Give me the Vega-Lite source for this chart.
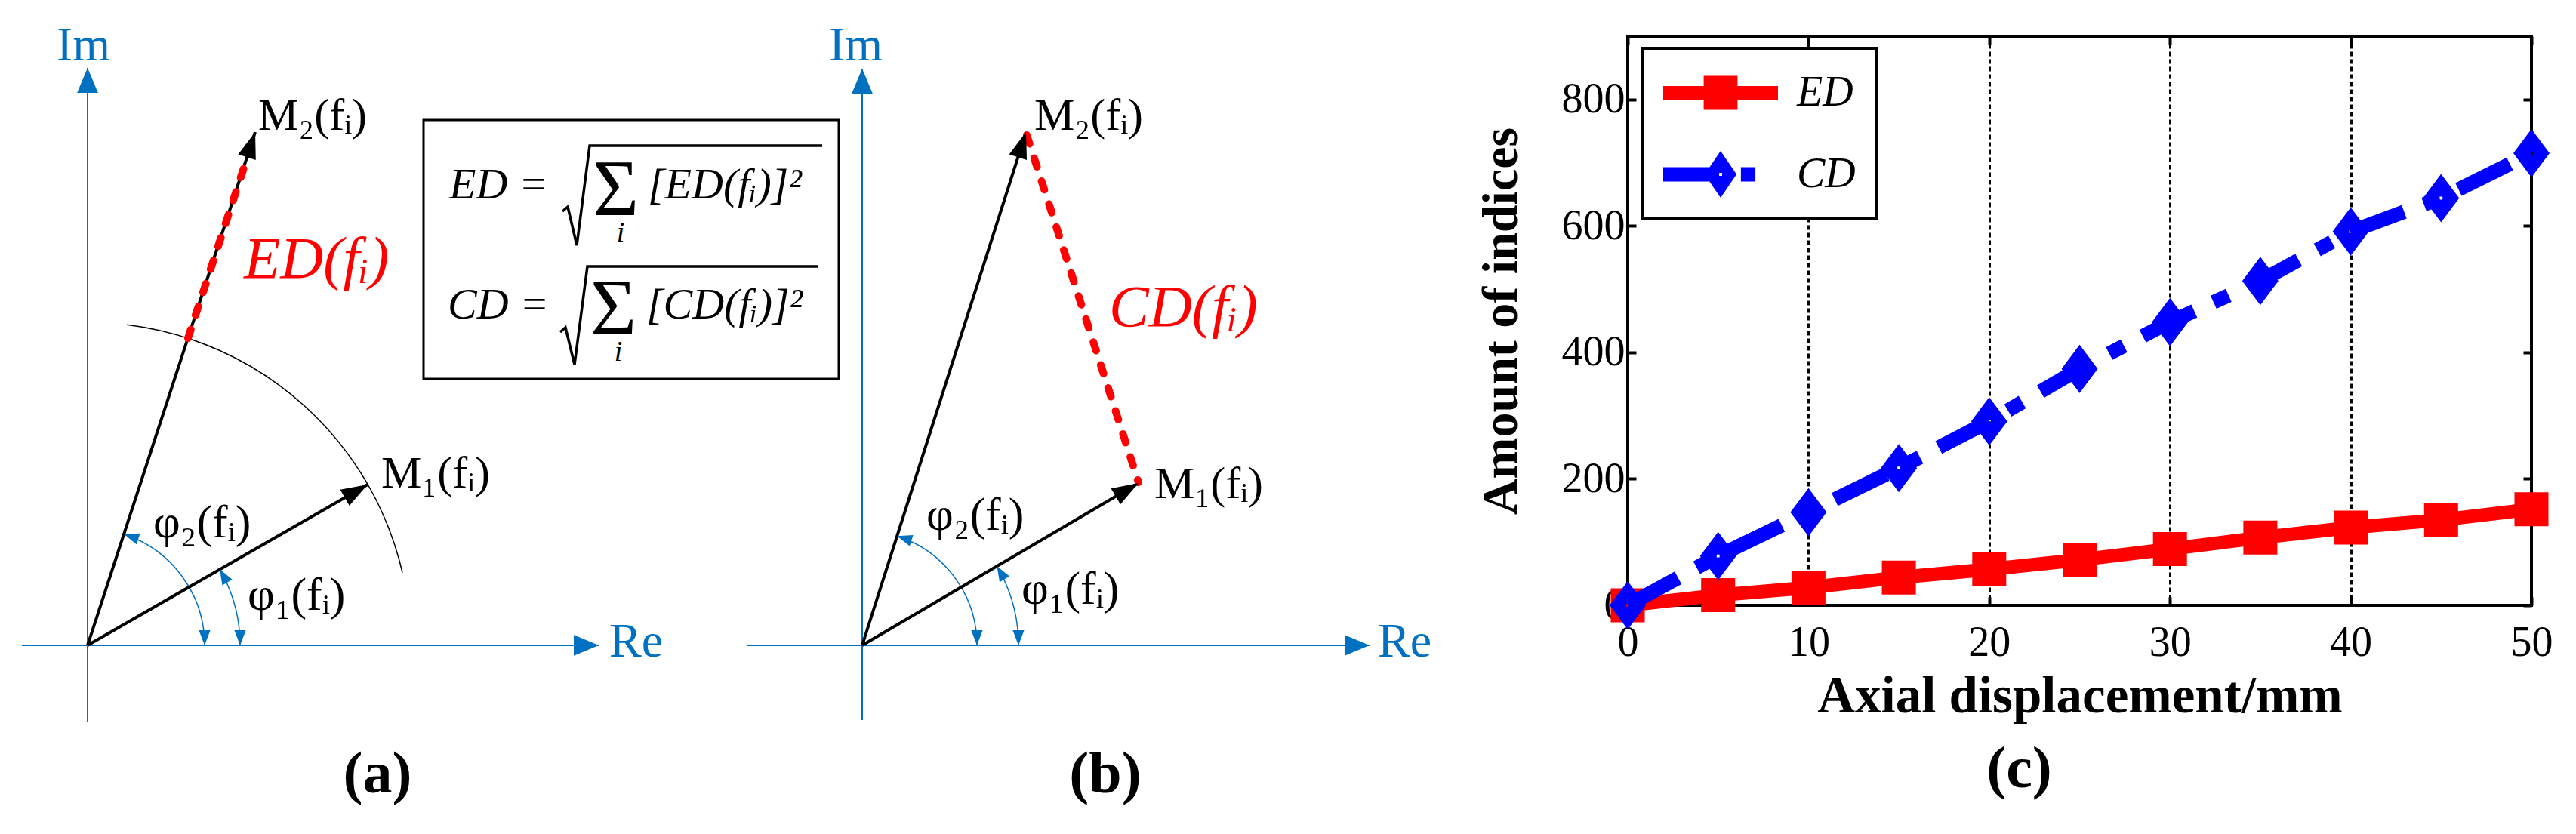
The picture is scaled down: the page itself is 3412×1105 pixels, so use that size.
{
  "$schema": "https://vega.github.io/schema/vega-lite/v6.json",
  "padding": 0,
  "background": "white",
  "bounds": "flush",
  "align": "each",
  "spacing": 0,
  "config": {
    "view": {"stroke": null},
    "font": "Liberation Serif",
    "axis": {"labelFont": "Liberation Serif", "titleFont": "Liberation Serif", "labelColor": "black", "titleColor": "black", "tickColor": "black"},
    "legend": {"strokeWidth": 4},
    "title": {"font": "Liberation Serif", "color": "black", "fontWeight": "bold", "fontSize": 78, "orient": "bottom", "anchor": "middle", "frame": "group", "offset": 28}
  },
  "datasets": {
    "points": [
      {"series": "ED", "disp": 0, "amount": 0}, {"series": "ED", "disp": 5, "amount": 16}, {"series": "ED", "disp": 10, "amount": 28},
      {"series": "ED", "disp": 15, "amount": 44}, {"series": "ED", "disp": 20, "amount": 57}, {"series": "ED", "disp": 25, "amount": 72},
      {"series": "ED", "disp": 30, "amount": 89}, {"series": "ED", "disp": 35, "amount": 107}, {"series": "ED", "disp": 40, "amount": 123},
      {"series": "ED", "disp": 45, "amount": 135}, {"series": "ED", "disp": 50, "amount": 152},
      {"series": "CD", "disp": 0, "amount": 0}, {"series": "CD", "disp": 5, "amount": 78}, {"series": "CD", "disp": 10, "amount": 147},
      {"series": "CD", "disp": 15, "amount": 217}, {"series": "CD", "disp": 20, "amount": 291}, {"series": "CD", "disp": 25, "amount": 374},
      {"series": "CD", "disp": 30, "amount": 448}, {"series": "CD", "disp": 35, "amount": 513}, {"series": "CD", "disp": 40, "amount": 591},
      {"series": "CD", "disp": 45, "amount": 644}, {"series": "CD", "disp": 50, "amount": 715}
    ],
    "a_axes": [{"re": -87, "im": 0, "re2": 677, "im2": 0}, {"re": 0, "im": -102, "re2": 0, "im2": 765}],
    "a_vectors": [{"name": "M1", "re": 371, "im": 213}, {"name": "M2", "re": 222, "im": 680}],
    "a_heads": [
      {"kind": "axis", "re": 677, "im": 0, "heading": 0}, {"kind": "axis", "re": 0, "im": 765, "heading": 90},
      {"kind": "vector", "re": 371, "im": 213, "heading": 29.9}, {"kind": "vector", "re": 222, "im": 680, "heading": 71.9},
      {"kind": "angle", "re": 202, "im": 0, "heading": -90}, {"kind": "angle", "re": 175.1, "im": 100.7, "heading": 119.9},
      {"kind": "angle", "re": 155, "im": 0, "heading": -90}, {"kind": "angle", "re": 48.2, "im": 147.3, "heading": 161.9}
    ],
    "a_arcs": [
      {"kind": "mag", "re": 0, "im": 0, "r": 428, "from": 13, "to": 83},
      {"kind": "phase", "re": 0, "im": 0, "r": 202, "from": 0, "to": 29.9},
      {"kind": "phase", "re": 0, "im": 0, "r": 155, "from": 0, "to": 71.9}
    ],
    "a_dist": [{"re": 133, "im": 407, "re2": 211, "im2": 645}],
    "a_box": [{"re": 445, "im": 696, "re2": 995, "im2": 353}],
    "a_radicals": [
      {"line": 1, "ord": 1, "re": 629, "im": 575}, {"line": 1, "ord": 2, "re": 636, "im": 581}, {"line": 1, "ord": 3, "re": 648, "im": 530},
      {"line": 1, "ord": 4, "re": 665, "im": 662}, {"line": 1, "ord": 5, "re": 973, "im": 662},
      {"line": 2, "ord": 1, "re": 626, "im": 415}, {"line": 2, "ord": 2, "re": 633, "im": 421}, {"line": 2, "ord": 3, "re": 645, "im": 372},
      {"line": 2, "ord": 4, "re": 662, "im": 502}, {"line": 2, "ord": 5, "re": 968, "im": 502}
    ],
    "a_labels": [
      {"kind": "axis", "re": -41, "im": 775, "text": "Im"}, {"kind": "axis", "re": 691, "im": -15, "text": "Re"},
      {"kind": "mlabel", "re": 226, "im": 683, "text": "M₂(fᵢ)"}, {"kind": "mlabel", "re": 389, "im": 209, "text": "M₁(fᵢ)"},
      {"kind": "phi", "re": 87, "im": 143, "text": "φ₂(fᵢ)"}, {"kind": "phi", "re": 212, "im": 47, "text": "φ₁(fᵢ)"},
      {"kind": "dist", "re": 207, "im": 487, "text": "ED(fᵢ)"},
      {"kind": "formula", "re": 479, "im": 592, "text": "ED ="}, {"kind": "formula", "re": 742, "im": 592, "text": "[ED(fᵢ)]²"},
      {"kind": "formula", "re": 477, "im": 433, "text": "CD ="}, {"kind": "formula", "re": 740, "im": 433, "text": "[CD(fᵢ)]²"},
      {"kind": "sigma", "re": 669, "im": 570, "text": "Σ"}, {"kind": "sigma", "re": 666, "im": 412, "text": "Σ"},
      {"kind": "index", "re": 706, "im": 535, "text": "i"}, {"kind": "index", "re": 703, "im": 377, "text": "i"}
    ],
    "b_axes": [{"re": -153, "im": 0, "re2": 672, "im2": 0}, {"re": 0, "im": -99, "re2": 0, "im2": 764}],
    "b_vectors": [{"name": "M1", "re": 366, "im": 215}, {"name": "M2", "re": 217, "im": 680}],
    "b_heads": [
      {"kind": "axis", "re": 672, "im": 0, "heading": 0}, {"kind": "axis", "re": 0, "im": 764, "heading": 90},
      {"kind": "vector", "re": 366, "im": 215, "heading": 30.4}, {"kind": "vector", "re": 217, "im": 680, "heading": 72.3},
      {"kind": "angle", "re": 207, "im": 0, "heading": -90}, {"kind": "angle", "re": 178.5, "im": 104.8, "heading": 120.4},
      {"kind": "angle", "re": 152, "im": 0, "heading": -90}, {"kind": "angle", "re": 46.2, "im": 144.8, "heading": 162.3}
    ],
    "b_arcs": [
      {"kind": "phase", "re": 0, "im": 0, "r": 207, "from": 0, "to": 30.4},
      {"kind": "phase", "re": 0, "im": 0, "r": 152, "from": 0, "to": 72.3}
    ],
    "b_dist": [{"re": 218, "im": 676, "re2": 366, "im2": 216}],
    "b_labels": [
      {"kind": "axis", "re": -44, "im": 775, "text": "Im"}, {"kind": "axis", "re": 683, "im": -15, "text": "Re"},
      {"kind": "mlabel", "re": 228, "im": 683, "text": "M₂(fᵢ)"}, {"kind": "mlabel", "re": 387, "im": 195, "text": "M₁(fᵢ)"},
      {"kind": "phi", "re": 85, "im": 153, "text": "φ₂(fᵢ)"}, {"kind": "phi", "re": 211, "im": 55, "text": "φ₁(fᵢ)"},
      {"kind": "dist", "re": 327, "im": 423, "text": "CD(fᵢ)"}
    ]
  },
  "hconcat": [
    {
      "width": 1050,
      "height": 960,
      "title": {"text": "(a)", "dx": -25},
      "encoding": {
        "x": {"field": "re", "type": "quantitative", "scale": {"domain": [-116, 934], "nice": false, "zero": false}, "axis": null},
        "y": {"field": "im", "type": "quantitative", "scale": {"domain": [-105, 855], "nice": false, "zero": false}, "axis": null}
      },
      "layer": [
        {"data": {"name": "a_box"}, "mark": {"type": "rect", "filled": false, "stroke": "black", "strokeWidth": 3}, "encoding": {"x2": {"field": "re2"}, "y2": {"field": "im2"}}},
        {"data": {"name": "a_axes"}, "mark": {"type": "rule", "color": "#0070C0", "strokeWidth": 2}, "encoding": {"x2": {"field": "re2"}, "y2": {"field": "im2"}}},
        {"data": {"name": "a_arcs"}, "transform": [{"filter": "datum.kind == 'mag'"}], "mark": {"type": "arc", "filled": false, "stroke": "black", "strokeWidth": 1.5},
          "encoding": {
            "theta": {"field": "from", "type": "quantitative", "stack": null, "scale": {"domain": [0, 360], "range": [1.5707963, -4.712389]}},
            "theta2": {"field": "to"},
            "radius": {"field": "r", "type": "quantitative", "scale": {"type": "linear", "domain": [0, 1000], "range": [0, 1000], "zero": true}},
            "radius2": {"field": "r"}
          }},
        {"data": {"name": "a_arcs"}, "transform": [{"filter": "datum.kind == 'phase'"}], "mark": {"type": "arc", "filled": false, "stroke": "#0070C0", "strokeWidth": 1.5},
          "encoding": {
            "theta": {"field": "from", "type": "quantitative", "stack": null, "scale": {"domain": [0, 360], "range": [1.5707963, -4.712389]}},
            "theta2": {"field": "to"},
            "radius": {"field": "r", "type": "quantitative", "scale": {"type": "linear", "domain": [0, 1000], "range": [0, 1000], "zero": true}},
            "radius2": {"field": "r"}
          }},
        {"data": {"name": "a_vectors"}, "mark": {"type": "rule", "color": "black", "strokeWidth": 4}, "encoding": {"x2": {"datum": 0}, "y2": {"datum": 0}}},
        {"data": {"name": "a_dist"}, "mark": {"type": "rule", "color": "#FF0000", "strokeWidth": 10, "strokeDash": [12, 20], "strokeCap": "round"}, "encoding": {"x2": {"field": "re2"}, "y2": {"field": "im2"}}},
        {"data": {"name": "a_radicals"}, "mark": {"type": "line", "color": "black", "strokeWidth": 3.5}, "encoding": {"detail": {"field": "line", "type": "nominal"}, "order": {"field": "ord", "type": "quantitative"}}},
        {"data": {"name": "a_heads"}, "transform": [{"filter": "datum.kind == 'vector'"}], "mark": {"type": "point", "shape": "M0,0L-0.35,1L0.35,1Z", "size": 4900, "filled": true, "color": "black", "opacity": 1, "strokeWidth": 0},
          "encoding": {"angle": {"field": "heading", "type": "quantitative", "scale": {"domain": [-360, 360], "range": [450, -270]}, "legend": null}}},
        {"data": {"name": "a_heads"}, "transform": [{"filter": "datum.kind == 'axis'"}], "mark": {"type": "point", "shape": "M0,0L-0.42,1L0.42,1Z", "size": 4356, "filled": true, "color": "#0070C0", "opacity": 1, "strokeWidth": 0},
          "encoding": {"angle": {"field": "heading", "type": "quantitative", "scale": {"domain": [-360, 360], "range": [450, -270]}, "legend": null}}},
        {"data": {"name": "a_heads"}, "transform": [{"filter": "datum.kind == 'angle'"}], "mark": {"type": "point", "shape": "M0,0L-0.38,1L0.38,1Z", "size": 1600, "filled": true, "color": "#0070C0", "opacity": 1, "strokeWidth": 0},
          "encoding": {"angle": {"field": "heading", "type": "quantitative", "scale": {"domain": [-360, 360], "range": [450, -270]}, "legend": null}}},
        {"data": {"name": "a_labels"}, "transform": [{"filter": "datum.kind == 'axis'"}], "mark": {"type": "text", "align": "left", "baseline": "alphabetic", "font": "Liberation Serif", "fontSize": 64, "color": "#0070C0"}, "encoding": {"text": {"field": "text"}}},
        {"data": {"name": "a_labels"}, "transform": [{"filter": "datum.kind == 'mlabel'"}], "mark": {"type": "text", "align": "left", "baseline": "alphabetic", "font": "Liberation Serif", "fontSize": 60, "color": "black"}, "encoding": {"text": {"field": "text"}}},
        {"data": {"name": "a_labels"}, "transform": [{"filter": "datum.kind == 'phi'"}], "mark": {"type": "text", "align": "left", "baseline": "alphabetic", "font": "Liberation Serif", "fontSize": 62, "color": "black"}, "encoding": {"text": {"field": "text"}}},
        {"data": {"name": "a_labels"}, "transform": [{"filter": "datum.kind == 'dist'"}], "mark": {"type": "text", "align": "left", "baseline": "alphabetic", "font": "Liberation Serif", "fontSize": 79, "fontStyle": "italic", "color": "#FF0000"}, "encoding": {"text": {"field": "text"}}},
        {"data": {"name": "a_labels"}, "transform": [{"filter": "datum.kind == 'formula'"}], "mark": {"type": "text", "align": "left", "baseline": "alphabetic", "font": "Liberation Serif", "fontSize": 58, "fontStyle": "italic", "color": "black"}, "encoding": {"text": {"field": "text"}}},
        {"data": {"name": "a_labels"}, "transform": [{"filter": "datum.kind == 'sigma'"}], "mark": {"type": "text", "align": "left", "baseline": "alphabetic", "font": "Liberation Serif", "fontSize": 105, "color": "black"}, "encoding": {"text": {"field": "text"}}},
        {"data": {"name": "a_labels"}, "transform": [{"filter": "datum.kind == 'index'"}], "mark": {"type": "text", "align": "center", "baseline": "alphabetic", "font": "Liberation Serif", "fontSize": 38, "fontStyle": "italic", "color": "black"}, "encoding": {"text": {"field": "text"}}}
      ]
    },
    {
      "width": 1106,
      "height": 960,
      "title": {"text": "(b)", "dx": -139},
      "encoding": {
        "x": {"field": "re", "type": "quantitative", "scale": {"domain": [-92, 1014], "nice": false, "zero": false}, "axis": null},
        "y": {"field": "im", "type": "quantitative", "scale": {"domain": [-105, 855], "nice": false, "zero": false}, "axis": null}
      },
      "layer": [
        {"data": {"name": "b_axes"}, "mark": {"type": "rule", "color": "#0070C0", "strokeWidth": 2}, "encoding": {"x2": {"field": "re2"}, "y2": {"field": "im2"}}},
        {"data": {"name": "b_arcs"}, "mark": {"type": "arc", "filled": false, "stroke": "#0070C0", "strokeWidth": 1.5},
          "encoding": {
            "theta": {"field": "from", "type": "quantitative", "stack": null, "scale": {"domain": [0, 360], "range": [1.5707963, -4.712389]}},
            "theta2": {"field": "to"},
            "radius": {"field": "r", "type": "quantitative", "scale": {"type": "linear", "domain": [0, 1000], "range": [0, 1000], "zero": true}},
            "radius2": {"field": "r"}
          }},
        {"data": {"name": "b_vectors"}, "mark": {"type": "rule", "color": "black", "strokeWidth": 4}, "encoding": {"x2": {"datum": 0}, "y2": {"datum": 0}}},
        {"data": {"name": "b_dist"}, "mark": {"type": "rule", "color": "#FF0000", "strokeWidth": 10, "strokeDash": [12, 20], "strokeCap": "round"}, "encoding": {"x2": {"field": "re2"}, "y2": {"field": "im2"}}},
        {"data": {"name": "b_heads"}, "transform": [{"filter": "datum.kind == 'vector'"}], "mark": {"type": "point", "shape": "M0,0L-0.35,1L0.35,1Z", "size": 4900, "filled": true, "color": "black", "opacity": 1, "strokeWidth": 0},
          "encoding": {"angle": {"field": "heading", "type": "quantitative", "scale": {"domain": [-360, 360], "range": [450, -270]}, "legend": null}}},
        {"data": {"name": "b_heads"}, "transform": [{"filter": "datum.kind == 'axis'"}], "mark": {"type": "point", "shape": "M0,0L-0.42,1L0.42,1Z", "size": 4356, "filled": true, "color": "#0070C0", "opacity": 1, "strokeWidth": 0},
          "encoding": {"angle": {"field": "heading", "type": "quantitative", "scale": {"domain": [-360, 360], "range": [450, -270]}, "legend": null}}},
        {"data": {"name": "b_heads"}, "transform": [{"filter": "datum.kind == 'angle'"}], "mark": {"type": "point", "shape": "M0,0L-0.38,1L0.38,1Z", "size": 1600, "filled": true, "color": "#0070C0", "opacity": 1, "strokeWidth": 0},
          "encoding": {"angle": {"field": "heading", "type": "quantitative", "scale": {"domain": [-360, 360], "range": [450, -270]}, "legend": null}}},
        {"data": {"name": "b_labels"}, "transform": [{"filter": "datum.kind == 'axis'"}], "mark": {"type": "text", "align": "left", "baseline": "alphabetic", "font": "Liberation Serif", "fontSize": 64, "color": "#0070C0"}, "encoding": {"text": {"field": "text"}}},
        {"data": {"name": "b_labels"}, "transform": [{"filter": "datum.kind == 'mlabel'"}], "mark": {"type": "text", "align": "left", "baseline": "alphabetic", "font": "Liberation Serif", "fontSize": 60, "color": "black"}, "encoding": {"text": {"field": "text"}}},
        {"data": {"name": "b_labels"}, "transform": [{"filter": "datum.kind == 'phi'"}], "mark": {"type": "text", "align": "left", "baseline": "alphabetic", "font": "Liberation Serif", "fontSize": 62, "color": "black"}, "encoding": {"text": {"field": "text"}}},
        {"data": {"name": "b_labels"}, "transform": [{"filter": "datum.kind == 'dist'"}], "mark": {"type": "text", "align": "left", "baseline": "alphabetic", "font": "Liberation Serif", "fontSize": 79, "fontStyle": "italic", "color": "#FF0000"}, "encoding": {"text": {"field": "text"}}}
      ]
    },
    {
      "vconcat": [
        {"width": 1197, "height": 48, "data": {"values": [{"blank": 1}]}, "mark": {"type": "text", "text": " "}, "encoding": {}},
        {
          "width": 1197,
          "height": 754,
          "view": {"stroke": "black", "strokeWidth": 4},
          "title": {"text": "(c)", "dx": -80, "offset": 24},
          "resolve": {"axis": {"x": "independent", "y": "independent"}},
          "layer": [
            {"data": {"name": "points"}, "transform": [{"filter": "datum.series == 'ED'"}],
              "mark": {"type": "line", "color": "#FF0000", "strokeWidth": 18},
              "encoding": {
                "x": {"field": "disp", "type": "quantitative", "scale": {"domain": [0, 50], "nice": false, "zero": false},
                  "axis": {"orient": "bottom", "values": [0, 10, 20, 30, 40, 50], "grid": true, "gridDash": [6, 4], "gridColor": "black", "gridWidth": 3, "gridOpacity": 1,
                    "domain": false, "ticks": true, "tickSize": -11, "tickWidth": 4, "labelFontSize": 56, "labelPadding": 33, "labelFlush": false, "labelOverlap": false,
                    "title": "Axial displacement/mm", "titleFontSize": 69, "titleFontWeight": "bold", "titlePadding": 9}},
                "y": {"field": "amount", "type": "quantitative", "scale": {"domain": [0, 900], "nice": false, "zero": false},
                  "axis": {"orient": "left", "values": [0, 200, 400, 600, 800], "grid": false, "domain": false, "ticks": true, "tickSize": -11, "tickWidth": 4,
                    "labelFontSize": 56, "labelPadding": 15, "labelFlush": false, "labelOverlap": false,
                    "title": "Amount of indices", "titleFontSize": 66, "titleFontWeight": "bold", "titlePadding": 46}}
              }},
            {"data": {"name": "points"}, "transform": [{"filter": "datum.series == 'ED'"}],
              "mark": {"type": "point", "shape": "square", "size": 2025, "filled": true, "color": "#FF0000", "opacity": 1, "strokeWidth": 0},
              "encoding": {
                "x": {"field": "disp", "type": "quantitative", "scale": {"domain": [0, 50], "nice": false, "zero": false}, "axis": null},
                "y": {"field": "amount", "type": "quantitative", "scale": {"domain": [0, 900], "nice": false, "zero": false}, "axis": null}
              }},
            {"data": {"name": "points"}, "transform": [{"filter": "datum.series == 'CD'"}],
              "mark": {"type": "line", "color": "#0000FF", "strokeWidth": 19, "strokeDash": [76, 28, 22, 28]},
              "encoding": {
                "x": {"field": "disp", "type": "quantitative", "scale": {"domain": [0, 50], "nice": false, "zero": false}, "axis": null},
                "y": {"field": "amount", "type": "quantitative", "scale": {"domain": [0, 900], "nice": false, "zero": false}, "axis": null}
              }},
            {"data": {"name": "points"}, "transform": [{"filter": "datum.series == 'CD'"}],
              "mark": {"type": "point", "shape": "M0,-1L0.75,0L0,1L-0.75,0ZM-0.06,-0.06L-0.06,0.06L0.06,0.06L0.06,-0.06Z", "size": 4096, "filled": true, "color": "#0000FF", "opacity": 1, "strokeWidth": 0},
              "encoding": {
                "x": {"field": "disp", "type": "quantitative", "scale": {"domain": [0, 50], "nice": false, "zero": false}, "axis": null},
                "y": {"field": "amount", "type": "quantitative", "scale": {"domain": [0, 900], "nice": false, "zero": false}, "axis": null}
              }},
            {"data": {"name": "points"}, "transform": [{"filter": "datum.disp > 1000"}],
              "mark": {"type": "point", "filled": true, "opacity": 1, "strokeWidth": 0},
              "encoding": {
                "x": {"field": "disp", "type": "quantitative", "scale": {"domain": [0, 50], "nice": false, "zero": false}, "axis": null},
                "y": {"field": "amount", "type": "quantitative", "scale": {"domain": [0, 900], "nice": false, "zero": false}, "axis": null},
                "color": {"field": "series", "type": "nominal", "scale": {"domain": ["ED", "CD"], "range": ["#FF0000", "#0000FF"]},
                  "legend": {"orient": "none", "legendX": 2176, "legendY": 64, "title": null, "direction": "vertical", "fillColor": "white", "strokeColor": "black",
                    "padding": 27, "symbolSize": 4096, "symbolStrokeWidth": 0, "symbolOffset": 44, "labelOffset": 69, "rowPadding": 48,
                    "labelFont": "Liberation Serif", "labelFontSize": 56, "labelFontStyle": "italic", "labelColor": "black", "symbolOpacity": 1, "labelLimit": 0}},
                "shape": {"field": "series", "type": "nominal",
                  "scale": {"domain": ["ED", "CD"], "range": ["M-2.375,-0.28H2.375V0.28H-2.375Z M-0.7,-0.7H0.7V0.7H-0.7Z", "M-2.375,-0.3H-0.5V0.3H-2.375Z M0,-0.97L0.66,0L0,0.97L-0.66,0Z M-0.06,-0.06L-0.06,0.06L0.06,0.06L0.06,-0.06Z M0.84,-0.3H1.44V0.3H0.84Z"]},
                  "legend": {"orient": "none", "legendX": 2176, "legendY": 64, "title": null, "direction": "vertical", "fillColor": "white", "strokeColor": "black",
                    "padding": 27, "symbolSize": 4096, "symbolStrokeWidth": 0, "symbolOffset": 44, "labelOffset": 69, "rowPadding": 48,
                    "labelFont": "Liberation Serif", "labelFontSize": 56, "labelFontStyle": "italic", "labelColor": "black", "symbolOpacity": 1, "labelLimit": 0}}
              }},
            {"data": {"name": "points"}, "transform": [{"filter": "datum.disp > 1000"}],
              "mark": {"type": "point", "opacity": 0},
              "encoding": {
                "x": {"field": "disp", "type": "quantitative", "scale": {"domain": [0, 50], "nice": false, "zero": false},
                  "axis": {"orient": "top", "values": [0, 10, 20, 30, 40, 50], "labels": false, "grid": false, "domain": false, "ticks": true, "tickSize": -11, "tickWidth": 4, "title": null}},
                "y": {"field": "amount", "type": "quantitative", "scale": {"domain": [0, 900], "nice": false, "zero": false},
                  "axis": {"orient": "right", "values": [0, 200, 400, 600, 800], "labels": false, "grid": false, "domain": false, "ticks": true, "tickSize": -11, "tickWidth": 4, "title": null}}
              }}
          ]
        }
      ],
      "spacing": 0,
      "bounds": "flush"
    }
  ]
}
